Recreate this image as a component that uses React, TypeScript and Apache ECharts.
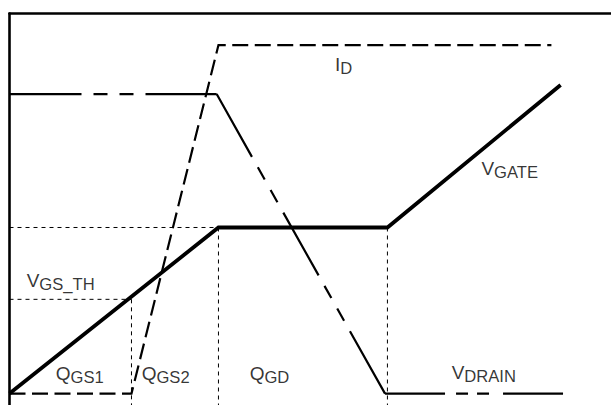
import React, { useEffect, useRef } from "react";
import * as echarts from "echarts";

// Gate charge waveform (arbitrary units: x = charge, y = voltage/current)
const vgateX = [0, 10.45, 18.9, 27.56];
const vgateY = [0, 4.37, 4.37, 8.12];
const idX = [0, 6.1, 10.45, 27.1];
const idY = [0, 0, 9.17, 9.17];
const vdrainX = [0, 10.36, 18.78, 28.0];
const vdrainY = [7.88, 7.88, 0, 0];

const vgsThLevel = 2.48;
const qgs1End = 6.1;
const plateauLevel = 4.37;
const plateauStart = 10.45;
const plateauEnd = 18.9;

const labelMain = ["I", "V", "V", "Q", "Q", "Q", "V"];
const labelSub = ["D", "GATE", "GS_TH", "GS1", "GS2", "GD", "DRAIN"];
const labelX = [16.28, 23.6, 0.86, 2.31, 6.61, 12.01, 22.11];
const labelY = [8.49, 5.75, 2.81, 0.36, 0.36, 0.36, 0.38];

const xMin = 0;
const xMax = 30.08;
const yMin = -0.3;
const yMax = 10;

const vdrainDash = [
  [72, 12, 14, 12, 14, 12],
  [72, 12, 14, 12, 14, 12],
  [60, 11, 12, 9, 12, 14],
];

const FONT = "Liberation Sans";
const MAIN_SIZE = 19;
const SUB_SIZE = 16.6;

function textWidth(t: string, size: number) {
  const c = document.createElement("canvas").getContext("2d");
  if (!c) return t.length * size * 0.65;
  c.font = `${size}px "${FONT}", Arial, sans-serif`;
  return c.measureText(t).width;
}

export default function App() {
  const ref = useRef<HTMLDivElement>(null);
  useEffect(() => {
    if (!ref.current) return;
    const chart = echarts.init(ref.current, undefined, { renderer: "svg" });

    const pts = (xs: number[], ys: number[]) => xs.map((x, i) => [x, ys[i]]);
    const guideStyle = { color: "#000", width: 1, type: [4, 4] as any };
    const guides = [
      [[xMin, vgsThLevel], [qgs1End, vgsThLevel]],
      [[xMin, plateauLevel], [plateauStart, plateauLevel]],
      [[qgs1End, vgsThLevel], [qgs1End, yMin]],
      [[plateauStart, plateauLevel], [plateauStart, yMin]],
      [[plateauEnd, plateauLevel], [plateauEnd, yMin]],
    ];

    const series: any[] = [];
    guides.forEach((g, i) => {
      series.push({
        type: "line",
        name: "guide" + i,
        data: g,
        symbol: "none",
        silent: true,
        lineStyle: guideStyle,
      });
    });

    series.push({
      type: "line",
      name: "ID",
      data: pts(idX, idY),
      symbol: "none",
      silent: true,
      lineStyle: { color: "#000", width: 2.2, type: [16, 6.5], join: "miter", cap: "butt" },
    });

    const vd = pts(vdrainX, vdrainY);
    for (let i = 0; i < vd.length - 1; i++) {
      series.push({
        type: "line",
        name: "VDRAIN" + i,
        data: [vd[i], vd[i + 1]],
        symbol: "none",
        silent: true,
        lineStyle: { color: "#000", width: 2.2, type: vdrainDash[i], cap: "butt" },
      });
    }

    series.push({
      type: "line",
      name: "VGATE",
      data: pts(vgateX, vgateY),
      symbol: "none",
      silent: true,
      lineStyle: { color: "#000", width: 3.8, join: "miter", cap: "butt" },
    });

    // main letters
    series.push({
      type: "scatter",
      name: "labelMain",
      symbolSize: 0,
      silent: true,
      z: 10,
      data: labelX.map((x, i) => ({ value: [x, labelY[i]], text: labelMain[i] })),
      label: {
        show: true,
        position: [0, 0],
        align: "left",
        verticalAlign: "middle",
        offset: [0, -0.3465 * MAIN_SIZE],
        formatter: (p: any) => p.data.text,
        fontSize: MAIN_SIZE,
        fontFamily: FONT,
        color: "#000",
      },
    });

    // subscripts
    series.push({
      type: "scatter",
      name: "labelSub",
      symbolSize: 0,
      silent: true,
      z: 10,
      data: labelX.map((x, i) => ({
        value: [x, labelY[i]],
        text: labelSub[i],
        label: { offset: [textWidth(labelMain[i], MAIN_SIZE), 3 - 0.3465 * SUB_SIZE] },
      })),
      label: {
        show: true,
        position: [0, 0],
        align: "left",
        verticalAlign: "middle",
        formatter: (p: any) => p.data.text,
        fontSize: SUB_SIZE,
        fontFamily: FONT,
        color: "#000",
      },
    });

    chart.setOption({
      animation: false,
      backgroundColor: "#fff",
      grid: { left: 9.5, top: 13.5, right: 0, bottom: 0, containLabel: false },
      xAxis: {
        type: "value",
        position: "top",
        min: xMin,
        max: xMax,
        axisLine: { show: true, onZero: false, lineStyle: { color: "#000", width: 2.6 } },
        axisTick: { show: false },
        axisLabel: { show: false },
        splitLine: { show: false },
      },
      yAxis: {
        type: "value",
        min: yMin,
        max: yMax,
        axisLine: { show: true, onZero: false, lineStyle: { color: "#000", width: 2.6 } },
        axisTick: { show: false },
        axisLabel: { show: false },
        splitLine: { show: false },
      },
      series,
    });
    return () => chart.dispose();
  }, []);

  return (
    <div
      ref={ref}
      style={{ position: "absolute", left: 0, top: 0, width: 611, height: 405, background: "#fff" }}
    />
  );
}
